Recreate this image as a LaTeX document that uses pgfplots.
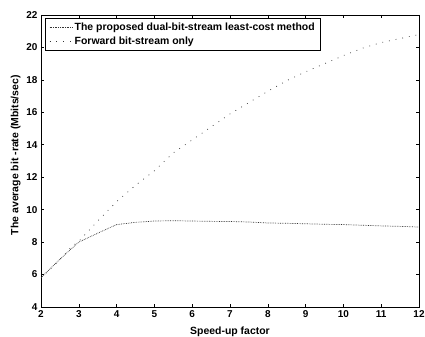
\documentclass[border=0pt]{standalone}
\usepackage{pgfplots}
\pgfplotsset{compat=1.18}
\usepackage{fontspec}
\setmainfont{Liberation Sans}
\begin{document}
\begin{tikzpicture}
\begin{axis}[
  scale only axis,
  width=378bp, height=292bp,
  xmin=2, xmax=12, ymin=4, ymax=22,
  xtick={2,3,...,12}, ytick={4,6,...,22},
  tick align=inside,
  major tick length=3bp,
  tick style={black, line width=0.6pt},
  axis line style={black, line width=0.8pt},
  tick label style={font=\fontsize{10}{11}\selectfont\bfseries},
  /pgf/number format/assume math mode=true,
  xlabel={Speed-up factor},
  ylabel={The average bit -rate (Mbits/sec)},
  label style={font=\fontsize{10.5}{12}\selectfont\bfseries},
  xlabel style={yshift=-2bp},
  ylabel style={at={(ticklabel cs:0.52)}, yshift=-1bp},
  legend style={at={(0,1)}, anchor=north west, xshift=4bp, yshift=-3bp,
    draw=black, line width=0.8pt, inner xsep=4bp, inner ysep=2.5bp,
    font=\fontsize{10.5}{12}\selectfont\bfseries, cells={anchor=west},
    row sep=1bp},
  legend cell align=left,
  legend image code/.code={\draw[#1, line width=0.6pt] (0cm,0cm) -- (0.8cm,0cm);},
]
\addplot[black!80, line width=0.7pt, densely dotted] coordinates {
 (2,5.8) (2.5,6.95) (3,8.0) (3.5,8.55) (4,9.08) (4.5,9.22) (5,9.3) (5.5,9.32)
 (6,9.3) (6.5,9.28) (7,9.27) (7.5,9.24) (8,9.18) (8.5,9.16) (9,9.13)
 (9.5,9.1) (10,9.08) (10.5,9.04) (11,9.0) (11.5,8.97) (12,8.93)};
\addlegendentry{The proposed dual-bit-stream least-cost method}
\addplot[black!80, line width=0.7pt, dash pattern=on 0.8pt off 6pt] coordinates {
 (2,5.8) (2.5,6.9) (2.8,7.7) (3,8.05) (3.5,9.3) (4,10.5) (4.5,11.5) (5,12.4)
 (5.5,13.5) (6,14.3) (6.5,15.1) (7,15.9) (7.5,16.6) (8,17.3) (8.5,17.95)
 (9,18.5) (9.5,19.0) (10,19.5) (10.5,19.95) (11,20.3) (11.5,20.55) (12,20.8)};
\addlegendentry{Forward bit-stream only}
\end{axis}
\pgfresetboundingbox
\path ([shift={(-41bp,-30bp)}]current axis.south west) rectangle ([shift={(6bp,15bp)}]current axis.north east);
\end{tikzpicture}
\end{document}
